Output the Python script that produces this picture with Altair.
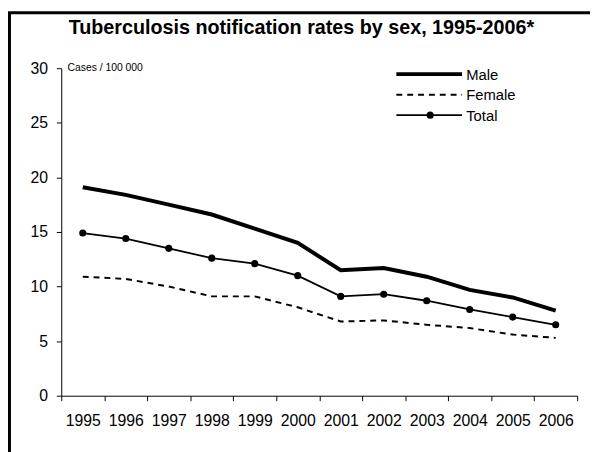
import altair as alt
import pandas as pd

years = ["1995", "1996", "1997", "1998", "1999", "2000",
         "2001", "2002", "2003", "2004", "2005", "2006"]
male = [19.1, 18.4, 17.5, 16.6, 15.3, 14.0, 11.5, 11.7, 10.9, 9.7, 9.0, 7.8]
female = [10.9, 10.7, 10.0, 9.1, 9.1, 8.1, 6.8, 6.9, 6.5, 6.2, 5.6, 5.3]
total = [14.9, 14.4, 13.5, 12.6, 12.1, 11.0, 9.1, 9.3, 8.7, 7.9, 7.2, 6.5]
series = ["Male", "Female", "Total"]
y_ticks = [0, 5, 10, 15, 20, 25, 30]
title_text = "Tuberculosis notification rates by sex, 1995-2006*"
unit_text = "Cases / 100 000"

rows = []
for name, vals in zip(series, [male, female, total]):
    for yr, v in zip(years, vals):
        rows.append({"year": yr, "value": v, "series": name})
df = pd.DataFrame(rows)
one = pd.DataFrame({"k": [0]})

FONT = "Liberation Sans"
W, H = 523, 332

x_enc = alt.X(
    "year:N", sort=years, bandPosition=0.5,
    scale=alt.Scale(type="band", paddingInner=0, paddingOuter=0),
    axis=alt.Axis(title=None, tickBand="extent", labelAngle=0, tickSize=5,
                  labelPadding=12, labelFontSize=16, labelFont=FONT,
                  labelColor="black", domainColor="black", tickColor="black",
                  grid=False),
)
y_enc = alt.Y(
    "value:Q",
    scale=alt.Scale(domain=[0, 30], nice=False, zero=True),
    axis=alt.Axis(title=None, values=y_ticks, grid=False, tickSize=5,
                  labelPadding=9, labelFontSize=16, labelFont=FONT,
                  labelColor="black", domainColor="black", tickColor="black"),
)

base = alt.Chart(df).encode(x=x_enc, y=y_enc)

male_line = base.transform_filter(alt.datum.series == "Male").mark_line(
    color="black", strokeWidth=4)
female_line = base.transform_filter(alt.datum.series == "Female").mark_line(
    color="black", strokeWidth=2, strokeDash=[6, 5])
total_line = base.transform_filter(alt.datum.series == "Total").mark_line(
    color="black", strokeWidth=1.8)
total_pts = base.transform_filter(alt.datum.series == "Total").mark_circle(
    color="black", size=52, opacity=1)

txt = alt.Chart(one)

title = txt.mark_text(font=FONT, fontSize=20, fontWeight="bold",
                      align="center", baseline="alphabetic", color="black").encode(
    x=alt.value(243.4), y=alt.value(-35), text=alt.value(title_text))
unit = txt.mark_text(font=FONT, fontSize=10.5, align="left",
                     baseline="alphabetic", color="black").encode(
    x=alt.value(6.3), y=alt.value(2.5), text=alt.value(unit_text))

# legend
lx1, lx2, ltx = 339.7, 406.3, 410.5
leg_male = txt.mark_rule(color="black", strokeWidth=4).encode(
    x=alt.value(lx1), x2=alt.value(lx2), y=alt.value(6))
leg_female = txt.mark_rule(color="black", strokeWidth=2, strokeDash=[6, 5]).encode(
    x=alt.value(lx1), x2=alt.value(lx2), y=alt.value(27))
leg_total = txt.mark_rule(color="black", strokeWidth=1.8).encode(
    x=alt.value(lx1), x2=alt.value(lx2), y=alt.value(47.6))
leg_dot = txt.mark_circle(color="black", size=52, opacity=1).encode(
    x=alt.value(374), y=alt.value(47.6))
leg_texts = [
    txt.mark_text(font=FONT, fontSize=15, align="left", baseline="middle",
                  color="black").encode(x=alt.value(ltx), y=alt.value(yy),
                                        text=alt.value(s))
    for s, yy in zip(series, [6.5, 27.5, 48])
]

# frame
frame_left = txt.mark_rule(color="black", strokeWidth=3).encode(
    x=alt.value(-52.5), y=alt.value(-56.2), y2=alt.value(H + 60))
frame_top = txt.mark_rule(color="black", strokeWidth=3).encode(
    x=alt.value(-54), x2=alt.value(W + 40), y=alt.value(-56.2))

chart = alt.layer(
    female_line, male_line, total_line, total_pts,
    title, unit, leg_male, leg_female, leg_total, leg_dot, *leg_texts,
    frame_left, frame_top,
).properties(
    width=W, height=H,
    autosize=alt.AutoSizeParams(type="none"),
    padding={"left": 54, "top": 58, "right": 13, "bottom": 54},
).configure_view(stroke=None)

chart.save("out.html", embed_options={"renderer": "svg", "actions": False})
